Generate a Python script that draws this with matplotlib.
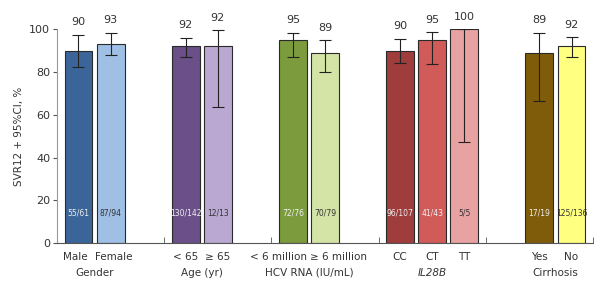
import matplotlib
matplotlib.use("Agg")
import matplotlib.pyplot as plt
from matplotlib.transforms import blended_transform_factory, offset_copy

# Data
categories = ["Male", "Female", "< 65", "\u2265 65", "< 6 million", "\u2265 6 million",
              "CC", "CT", "TT", "Yes", "No"]
groups = ["Gender", "Age (yr)", "HCV RNA (IU/mL)", "IL28B", "Cirrhosis"]
group_sizes = [2, 2, 2, 3, 2]
svr = [90, 93, 92, 92, 95, 89, 90, 95, 100, 89, 92]
ci_low = [82.4, 87.9, 87.1, 63.7, 87.1, 79.9, 84.3, 84.0, 47.3, 66.5, 87.1]
ci_high = [97.5, 98.3, 96.1, 99.5, 98.4, 94.9, 95.6, 98.7, 100, 98.3, 96.4]
counts = ["55/61", "87/94", "130/142", "12/13", "72/76", "70/79",
          "96/107", "41/43", "5/5", "17/19", "125/136"]
positions = [2, 5, 12, 15, 22, 25, 32, 35, 38, 45, 48]

colors = ["#3b6598", "#9fbfe4", "#6a4f88", "#bba8d2", "#7b9b3d", "#d4e4a6",
          "#9f3c3c", "#d15b59", "#e9a2a2", "#7f5c09", "#ffff80"]
text_colors = ["#f0f0f0", "#333333", "#f0f0f0", "#333333", "#f0f0f0", "#333333",
               "#f0f0f0", "#f0f0f0", "#333333", "#f0f0f0", "#333333"]
# horizontal nudges (points) for the category labels
label_nudge = [-2, 2, 0, 0, -10, 10, 0, 0, 0, 0, 0]

fig = plt.figure(figsize=(6.15, 2.89), dpi=100)
ax = fig.add_axes([0.0927, 0.159, 0.8715, 0.7396])

yerr = [[v - l for v, l in zip(svr, ci_low)], [h - v for v, h in zip(svr, ci_high)]]
ax.bar(positions, svr, width=2.6, color=colors, edgecolor="#2a2a2a", linewidth=0.8, zorder=2)
ax.errorbar(positions, svr, yerr=yerr, fmt="none", ecolor="#222222", elinewidth=0.8,
            capsize=4, capthick=0.8, zorder=3)

for x, v, h, c, tc in zip(positions, svr, ci_high, counts, text_colors):
    ax.text(x, h + 3.5, f"{v}", ha="center", va="bottom", fontsize=8, color="#333333", clip_on=False)
    ax.text(x, 14, c, ha="center", va="center", fontsize=5.5, color=tc, zorder=4)

ax.set_xlim(0, 50)
ax.set_ylim(0, 100)
ax.set_yticks([0, 20, 40, 60, 80, 100])
ax.tick_params(axis="y", labelsize=8, length=3, direction="out", color="#555555", labelcolor="#333333", pad=2)
ax.set_ylabel("SVR12 + 95%CI, %", fontsize=7.5, color="#333333", labelpad=4)

ax.set_xticks([])
ax.set_xticks([10, 20, 30, 40, 50], minor=True)
ax.tick_params(axis="x", which="minor", direction="in", length=4, color="#555555")
ax.tick_params(axis="x", which="major", length=0)

for s in ["top", "right"]:
    ax.spines[s].set_visible(False)
ax.spines["left"].set_color("#999999")
ax.spines["bottom"].set_color("#555555")

trans = blended_transform_factory(ax.transData, ax.transAxes)
for x, lab, dx in zip(positions, categories, label_nudge):
    t = offset_copy(trans, fig=fig, x=dx, y=0, units="points")
    ax.text(x, -0.042, lab, transform=t, ha="center", va="top", fontsize=7.5, color="#333333")

idx = 0
for g, n in zip(groups, group_sizes):
    center = sum(positions[idx:idx + n]) / n
    style = "italic" if g == "IL28B" else "normal"
    ax.text(center, -0.115, g, transform=trans, ha="center", va="top", fontsize=7.5,
            color="#333333", style=style)
    idx += n

fig.savefig("out.png", dpi=100)
